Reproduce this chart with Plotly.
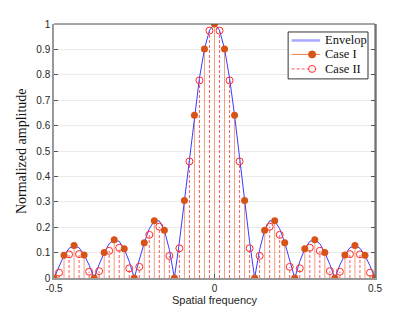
import plotly.graph_objects as go

# ---- data ----
case1_x = [-0.5, -0.46875, -0.4375, -0.40625, -0.375, -0.34375, -0.3125, -0.28125,
           -0.25, -0.21875, -0.1875, -0.15625, -0.125, -0.09375, -0.0625, -0.03125,
           0.0, 0.03125, 0.0625, 0.09375, 0.125, 0.15625, 0.1875, 0.21875,
           0.25, 0.28125, 0.3125, 0.34375, 0.375, 0.40625, 0.4375, 0.46875, 0.5]
case1_y = [0.0, 0.090, 0.128, 0.091, 0.0, 0.100, 0.151, 0.115,
           0.0, 0.139, 0.225, 0.188, 0.0, 0.305, 0.641, 0.902,
           1.0, 0.902, 0.641, 0.305, 0.0, 0.188, 0.225, 0.139,
           0.0, 0.115, 0.151, 0.100, 0.0, 0.091, 0.128, 0.090, 0.0]

case2_x = [-0.484375, -0.453125, -0.421875, -0.390625, -0.359375, -0.328125, -0.296875, -0.265625,
           -0.234375, -0.203125, -0.171875, -0.140625, -0.109375, -0.078125, -0.046875, -0.015625,
           0.015625, 0.046875, 0.078125, 0.109375, 0.140625, 0.171875, 0.203125, 0.234375,
           0.265625, 0.296875, 0.328125, 0.359375, 0.390625, 0.421875, 0.453125, 0.484375]
case2_y = [0.021, 0.093, 0.094, 0.025, 0.027, 0.107, 0.119, 0.038,
           0.044, 0.170, 0.202, 0.087, 0.117, 0.459, 0.778, 0.974,
           0.974, 0.778, 0.459, 0.117, 0.087, 0.202, 0.170, 0.044,
           0.038, 0.119, 0.107, 0.027, 0.025, 0.094, 0.093, 0.021]

env_x = sorted(case1_x + case2_x)
env_y = [0.0, 0.048, 0.089, 0.117, 0.127, 0.119, 0.092, 0.051,
         0.0, 0.053, 0.100, 0.135, 0.150, 0.144, 0.114, 0.065,
         0.0, 0.071, 0.139, 0.194, 0.225, 0.225, 0.188, 0.112,
         0.0, 0.142, 0.305, 0.475, 0.641, 0.787, 0.902, 0.975,
         1.0,
         0.975, 0.902, 0.787, 0.641, 0.475, 0.305, 0.142, 0.0,
         0.112, 0.188, 0.225, 0.225, 0.194, 0.139, 0.071, 0.0,
         0.065, 0.114, 0.144, 0.150, 0.135, 0.100, 0.053, 0.0,
         0.051, 0.092, 0.119, 0.127, 0.117, 0.089, 0.048, 0.0]

y_ticks = [0, 0.1, 0.2, 0.3, 0.4, 0.5, 0.6, 0.7, 0.8, 0.9, 1]
y_tick_text = ["0", "0.1", "0.2", "0.3", "0.4", "0.5", "0.6", "0.7", "0.8", "0.9", "1"]
x_ticks = [-0.5, 0, 0.5]
x_tick_text = ["-0.5", "0", "0.5"]
legend_names = ["Envelop", "Case I", "Case II"]

C_ENV = "#3a3aff"
C1_STEM = "#f2a07c"
C1_DOT = "#d95319"
C2_STEM = "#ff5a5a"
C2_MARK = "#ff2a2a"

# plot-area geometry (pixels)
L, R, T, B = 54, 39.5, 23.5, 34
W, H = 415, 312
PW, PH = W - L - R, H - T - B


def px(x):
    return (x - L) / PW


def py(y):
    return (H - B - y) / PH


def stems(xs, ys):
    sx, sy = [], []
    for x, y in zip(xs, ys):
        sx += [x, x, None]
        sy += [0, y, None]
    return sx, sy


fig = go.Figure()

s2x, s2y = stems(case2_x, case2_y)
fig.add_trace(go.Scatter(x=s2x, y=s2y, mode="lines", showlegend=False,
                         line=dict(color=C2_STEM, width=1, dash="3px,2px"), hoverinfo="skip"))
s1x, s1y = stems(case1_x, case1_y)
fig.add_trace(go.Scatter(x=s1x, y=s1y, mode="lines", showlegend=False,
                         line=dict(color=C1_STEM, width=1), hoverinfo="skip"))
fig.add_trace(go.Scatter(x=env_x, y=env_y, mode="lines", showlegend=False,
                         line=dict(color=C_ENV, width=1)))
fig.add_trace(go.Scatter(x=case2_x, y=case2_y, mode="markers", showlegend=False,
                         marker=dict(symbol="circle-open", size=7, color=C2_MARK,
                                     line=dict(width=1, color=C2_MARK))))
fig.add_trace(go.Scatter(x=case1_x, y=case1_y, mode="markers", showlegend=False,
                         marker=dict(symbol="circle", size=7, color=C1_DOT)))

shapes = []
# top / right box lines
shapes.append(dict(type="line", xref="paper", yref="paper", x0=0, x1=1, y0=1, y1=1,
                   line=dict(color="#4d4d4d", width=1)))
shapes.append(dict(type="line", xref="paper", yref="paper", x0=1, x1=1, y0=0, y1=1,
                   line=dict(color="#4d4d4d", width=1)))

# manual legend
lx0, lx1, ly0, ly1 = 288.5, 368.5, 31.5, 78.5
shapes.append(dict(type="rect", xref="paper", yref="paper", x0=px(lx0), x1=px(lx1),
                   y0=py(ly1), y1=py(ly0), fillcolor="white",
                   line=dict(color="#333333", width=1), layer="above"))
rows = [40, 54, 68.5]
seg_x0, seg_x1, mk_x, txt_x = 292, 320.5, 312.5, 323.5
shapes.append(dict(type="line", xref="paper", yref="paper", x0=px(seg_x0), x1=px(seg_x1),
                   y0=py(rows[0]), y1=py(rows[0]), line=dict(color="#a8a8ff", width=2.5), layer="above"))
shapes.append(dict(type="line", xref="paper", yref="paper", x0=px(seg_x0), x1=px(seg_x1),
                   y0=py(rows[1]), y1=py(rows[1]), line=dict(color="#f08050", width=1), layer="above"))
shapes.append(dict(type="line", xref="paper", yref="paper", x0=px(seg_x0), x1=px(seg_x1 - 3),
                   y0=py(rows[2]), y1=py(rows[2]), line=dict(color=C2_STEM, width=1, dash="3px,2px"), layer="above"))
shapes.append(dict(type="circle", xref="paper", yref="paper", xsizemode="pixel", ysizemode="pixel",
                   xanchor=px(mk_x), yanchor=py(rows[1]), x0=-3.5, x1=3.5, y0=-3.5, y1=3.5,
                   fillcolor=C1_DOT, line=dict(color=C1_DOT, width=1), layer="above"))
shapes.append(dict(type="circle", xref="paper", yref="paper", xsizemode="pixel", ysizemode="pixel",
                   xanchor=px(mk_x), yanchor=py(rows[2]), x0=-3.5, x1=3.5, y0=-3.5, y1=3.5,
                   fillcolor="white", line=dict(color=C2_MARK, width=1), layer="above"))

annotations = []
for name, r in zip(legend_names, rows):
    annotations.append(dict(text=name, xref="paper", yref="paper", x=px(txt_x), y=py(r),
                            xanchor="left", yanchor="middle", showarrow=False,
                            font=dict(family="Liberation Serif, Times New Roman, serif", size=12.5,
                                      color="#111111")))
annotations.append(dict(text="Normalized amplitude", xref="paper", yref="paper",
                        x=px(21), y=0.5, textangle=-90, xanchor="center", yanchor="middle",
                        showarrow=False,
                        font=dict(family="Liberation Serif, Times New Roman, serif", size=14,
                                  color="#111111")))
annotations.append(dict(text="Spatial frequency", xref="paper", yref="paper",
                        x=0.5, y=py(300), xanchor="center", yanchor="middle", showarrow=False,
                        font=dict(family="Liberation Sans, Arial, sans-serif", size=11,
                                  color="#262626")))

fig.update_layout(
    width=W, height=H,
    margin=dict(l=L, r=R, t=T, b=B, autoexpand=False),
    paper_bgcolor="white", plot_bgcolor="white",
    font=dict(family="Liberation Sans, Arial, sans-serif", size=10, color="#262626"),
    showlegend=False,
    shapes=shapes, annotations=annotations,
)
fig.update_xaxes(range=[-0.5, 0.5], tickvals=x_ticks, ticktext=x_tick_text,
                 ticks="inside", ticklen=4, tickcolor="#555555", automargin=False,
                 showline=True, linecolor="#999999", linewidth=1.5,
                 showgrid=True, gridcolor="#ebebeb", zeroline=False)
fig.update_yaxes(range=[0, 1], tickvals=y_ticks, ticktext=y_tick_text,
                 ticks="inside", ticklen=4, tickcolor="#555555", mirror="ticks", automargin=False,
                 showline=True, linecolor="#999999", linewidth=1.5,
                 showgrid=True, gridcolor="#ebebeb", zeroline=False)

fig.write_html("out.html", config={"displayModeBar": False},
               post_script="document.body.style.margin='0';document.body.style.padding='0';")
